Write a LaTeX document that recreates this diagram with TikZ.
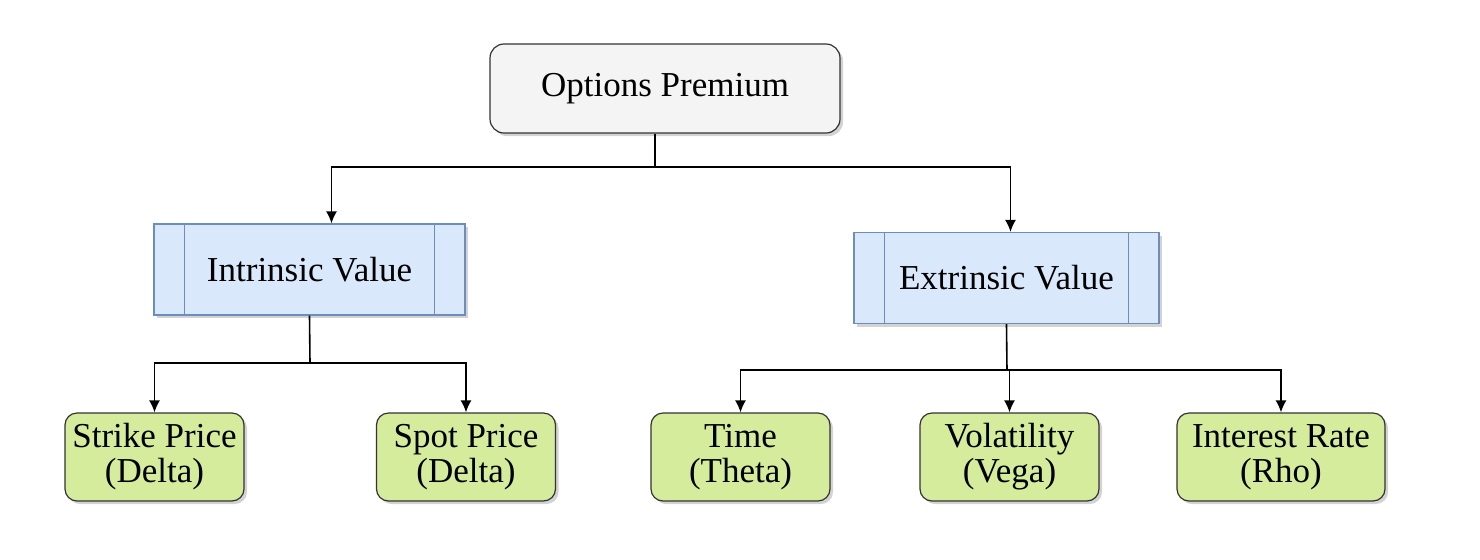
\documentclass[tikz,border=0pt]{standalone}
\usepackage{fontspec}
\setmainfont{Liberation Serif}
\usepackage{tikz}
\usetikzlibrary{arrows.meta,shadows}
\definecolor{pblue}{HTML}{DAE8FC}
\definecolor{bline}{HTML}{6C8EBF}
\definecolor{pgreen}{HTML}{D5EC9C}
\definecolor{pgray}{HTML}{F4F4F4}

\begin{document}
\begin{tikzpicture}[x=0.5pt,y=-0.5pt,font=\fontsize{17.5}{17.5}\selectfont,
  shd/.style={drop shadow={shadow xshift=1.5pt,shadow yshift=-1.5pt,opacity=0.35,fill=gray}},
  top/.style={draw=black!80,fill=pgray,rounded corners=7pt,minimum width=175pt,minimum height=44.5pt,shd,line width=0.6pt},
  val/.style={draw=bline,fill=pblue,minimum height=45.5pt,shd,line width=0.6pt},
  leaf/.style={draw=black!80,fill=pgreen,rounded corners=6pt,minimum width=89.5pt,minimum height=44pt,align=center,shd,line width=0.6pt},
  ln/.style={line width=0.8pt},
  ar/.style={ln,-{Latex[length=6pt,width=5.5pt]}}]
  \useasboundingbox (0,0) rectangle (1480,559);
  \node[top](op) at (665,88.5){\raisebox{-1.5pt}{Options Premium}};
  \node[val,minimum width=155.5pt](iv) at (309.5,269.5){Intrinsic Value};
  \node[val,minimum width=152.5pt](ev) at (1006.5,278){Extrinsic Value};
  \foreach \n in {iv,ev}{
    \draw[bline,line width=0.6pt]([xshift=15.5pt]\n.north west)--([xshift=15.5pt]\n.south west);
    \draw[bline,line width=0.6pt]([xshift=-15.5pt]\n.north east)--([xshift=-15.5pt]\n.south east);}
  \node[leaf](sk) at (154.5,457){Strike Price\\(Delta)};
  \node[leaf](sp) at (466,457){Spot Price\\(Delta)};
  \node[leaf](tm) at (740.5,457){Time\\(Theta)};
  \node[leaf](vo) at (1009.5,457){Volatility\\(Vega)};
  \node[leaf,minimum width=104pt](ir) at (1281,457){Interest Rate\\(Rho)};
  % connectors
  \coordinate (j1) at (655,167);
  \coordinate (j2) at (310,363);
  \coordinate (j3) at (1007,370);
  \draw[ln](op.south -| j1)--(j1);
  \draw[ar](j1)-|([xshift=11pt]iv.north);\draw[ar](j1)-|([xshift=2pt]ev.north);
  \draw[ln](iv.south)--(j2);
  \draw[ar](j2)-|(sk.north);\draw[ar](j2)-|(sp.north);
  \draw[ln](ev.south)--(j3);
  \draw[ar](j3)-|(tm.north);\draw[ar](j3)-|(vo.north);\draw[ar](j3)-|(ir.north);
\end{tikzpicture}
\end{document}
